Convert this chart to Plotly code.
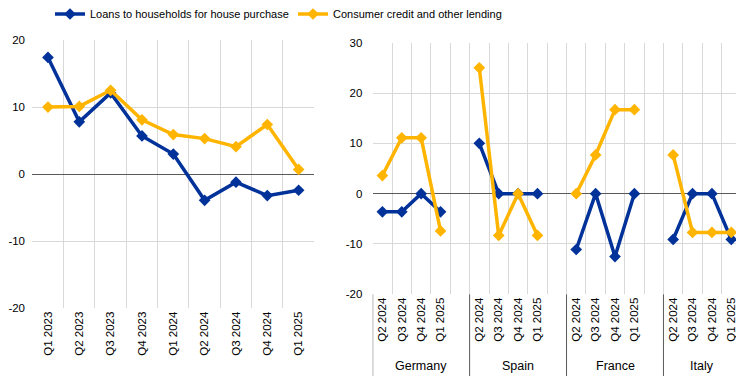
import plotly.graph_objects as go

# ---------------- data ----------------
left_quarters = ["Q1 2023", "Q2 2023", "Q3 2023", "Q4 2023", "Q1 2024",
                 "Q2 2024", "Q3 2024", "Q4 2024", "Q1 2025"]
left_house = [17.4, 7.8, 12.1, 5.7, 3.0, -3.9, -1.2, -3.2, -2.4]
left_consumer = [10.0, 10.1, 12.5, 8.1, 5.9, 5.3, 4.1, 7.4, 0.7]

countries = ["Germany", "Spain", "France", "Italy"]
right_quarters = ["Q2 2024", "Q3 2024", "Q4 2024", "Q1 2025"]
house_by_country = {
    "Germany": [-3.6, -3.6, 0.0, -3.6],
    "Spain": [10.0, 0.0, 0.0, 0.0],
    "France": [-11.1, 0.0, -12.5, 0.0],
    "Italy": [-9.1, 0.0, 0.0, -9.1],
}
consumer_by_country = {
    "Germany": [3.6, 11.1, 11.1, -7.4],
    "Spain": [25.0, -8.3, 0.0, -8.3],
    "France": [0.0, 7.7, 16.7, 16.7],
    "Italy": [7.7, -7.7, -7.7, -7.7],
}

series_names = ["Loans to households for house purchase", "Consumer credit and other lending"]
BLUE = "#003299"
YELLOW = "#FFB400"
GRID = "#D9D9D9"
DARK = "#595959"
FONT = "Liberation Sans, Arial, sans-serif"

# ---------------- build right-panel categories ----------------
cats, labels, y_house, y_cons = [], [], [], []
group_bounds = []
for i, c in enumerate(countries):
    start = len(cats)
    for j, q in enumerate(right_quarters):
        cats.append(f"{c}|{q}")
        labels.append(q)
        y_house.append(house_by_country[c][j])
        y_cons.append(consumer_by_country[c][j])
    if i < len(countries) - 1:
        cats.append(f"{c}|gap")
        labels.append("")
        y_house.append(None)
        y_cons.append(None)
    group_bounds.append((start - 0.5, len(cats) - 0.5))

fig = go.Figure()

for name, ys, col in [(series_names[0], left_house, BLUE), (series_names[1], left_consumer, YELLOW)]:
    fig.add_trace(go.Scatter(
        x=left_quarters, y=ys, name=name, mode="lines+markers",
        line=dict(color=col, width=3.5), marker=dict(symbol="diamond", size=9, color=col),
        xaxis="x", yaxis="y", showlegend=True,
    ))
for name, ys, col in [(series_names[0], y_house, BLUE), (series_names[1], y_cons, YELLOW)]:
    fig.add_trace(go.Scatter(
        x=cats, y=ys, name=name, mode="lines+markers", connectgaps=False,
        line=dict(color=col, width=3.5), marker=dict(symbol="diamond", size=9, color=col),
        xaxis="x2", yaxis="y2", showlegend=False,
    ))

# the page places the figure 8px in from the window's top-left corner
OFF = 8
W, H = 744 - OFF, 384 - OFF
def px_x(p):
    return (p - OFF) / W
def px_y(p):
    return 1 - (p - OFF) / H

left_ticks = list(range(-20, 21, 10))
right_ticks = list(range(-20, 31, 10))

xtick_font = dict(family=FONT, size=11.5, color="#000000")
ytick_font = dict(family=FONT, size=11.5, color="#000000")

fig.update_layout(
    width=W, height=H,
    margin=dict(l=0, r=0, t=0, b=0, autoexpand=False),
    paper_bgcolor="white", plot_bgcolor="white",
    font=dict(family=FONT, size=12, color="#000000"),
    xaxis=dict(
        domain=[px_x(32.3), px_x(314.3)], type="category",
        categoryorder="array", categoryarray=left_quarters,
        tickson="boundaries", showgrid=True, gridcolor=GRID, gridwidth=1,
        tickangle=-90, tickfont=xtick_font, ticks="outside", ticklen=6,
        tickcolor="rgba(0,0,0,0)", showline=False, zeroline=False,
        range=[-0.5, len(left_quarters) - 0.5], anchor="y", automargin=False,
    ),
    yaxis=dict(
        domain=[px_y(308.3), px_y(40)], range=[-20, 20],
        tickvals=left_ticks, ticktext=[str(v) for v in left_ticks],
        showgrid=True, gridcolor=GRID, gridwidth=1,
        zeroline=True, zerolinecolor=DARK, zerolinewidth=1,
        tickfont=ytick_font, ticks="outside", ticklen=4, tickcolor="rgba(0,0,0,0)",
        showline=False, anchor="x", automargin=False,
    ),
    xaxis2=dict(
        domain=[px_x(372.7), px_x(741)], type="category",
        categoryorder="array", categoryarray=cats,
        tickvals=cats, ticktext=labels,
        tickson="boundaries", showgrid=True, gridcolor=GRID, gridwidth=1,
        tickangle=-90, tickfont=xtick_font, ticks="outside", ticklen=6,
        tickcolor="rgba(0,0,0,0)", showline=False, zeroline=False,
        range=[-0.5, len(cats) - 0.5], anchor="y2", automargin=False,
    ),
    yaxis2=dict(
        domain=[px_y(294.3), px_y(42.7)], range=[-20, 30],
        tickvals=right_ticks, ticktext=[str(v) for v in right_ticks],
        showgrid=True, gridcolor=GRID, gridwidth=1,
        zeroline=True, zerolinecolor=DARK, zerolinewidth=1,
        tickfont=ytick_font, ticks="outside", ticklen=7, tickcolor="rgba(0,0,0,0)",
        showline=False, anchor="x2", automargin=False,
    ),
    legend=dict(
        orientation="h", x=px_x(50), xanchor="left", y=px_y(14), yanchor="middle",
        font=dict(family=FONT, size=11, color="#000000"),
        itemwidth=30, entrywidth=198, entrywidthmode="pixels",
        bgcolor="rgba(0,0,0,0)", traceorder="normal",
    ),
    showlegend=True,
)

# group dividers and country labels on the right panel
shapes = []
anns = []
bottom_paper = px_y(294.3)
edges = sorted({b for pair in group_bounds for b in pair})
for e in edges:
    shapes.append(dict(type="line", xref="x2", yref="paper", x0=e, x1=e,
                       y0=bottom_paper, y1=px_y(376), line=dict(color=DARK, width=1)))
for c, (a, b) in zip(countries, group_bounds):
    anns.append(dict(text=c, xref="x2", yref="paper", x=(a + b) / 2, y=px_y(366),
                     showarrow=False, font=dict(family=FONT, size=12.5, color="#000000"),
                     xanchor="center", yanchor="middle"))
fig.update_layout(shapes=shapes, annotations=anns)

fig.write_html("out.html")
